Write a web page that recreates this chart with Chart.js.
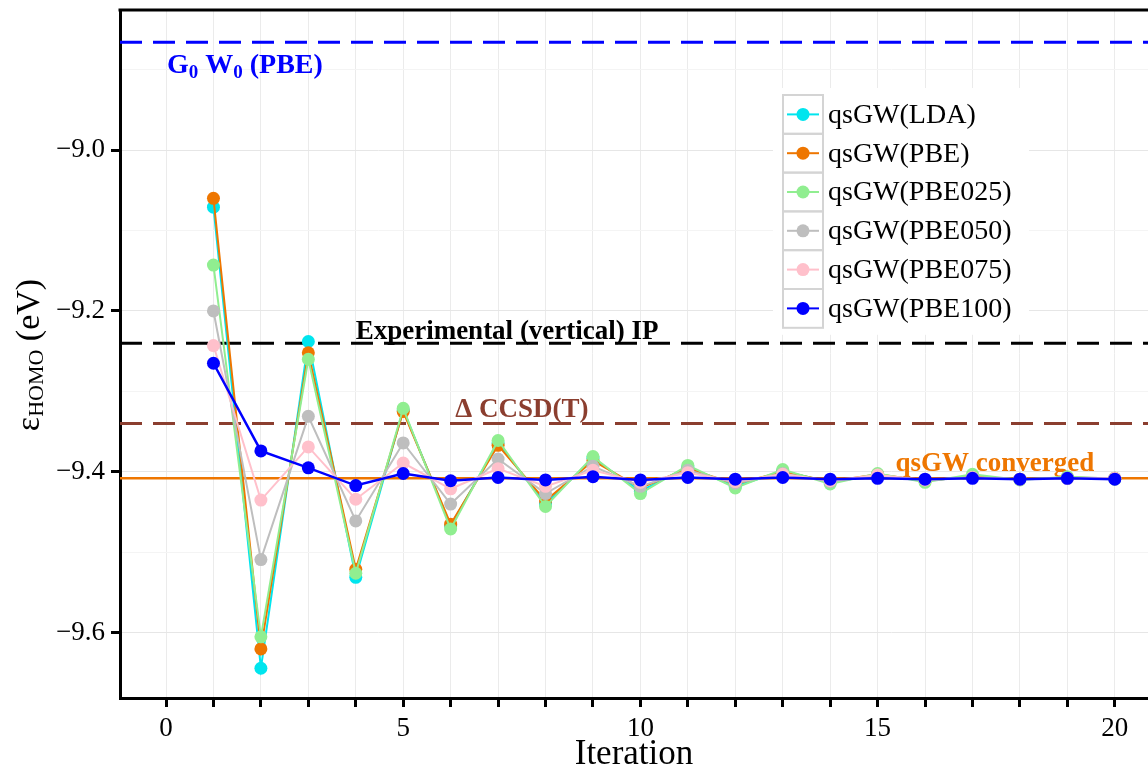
<!DOCTYPE html>
<html>
<head>
<meta charset="utf-8">
<title>qsGW HOMO convergence</title>
<script src="https://cdn.jsdelivr.net/npm/chart.js@4.4.0/dist/chart.umd.min.js"></script>
<style>
  body { margin: 0; background: #fff; }
  #wrap { width: 1148px; height: 769px; }
</style>
</head>
<body>
<div id="wrap"><canvas id="homoChart" width="1148" height="769"></canvas></div>
<script>
// iteration number for every point
const iterations = [1, 2, 3, 4, 5, 6, 7, 8, 9, 10, 11, 12, 13, 14, 15, 16, 17, 18, 19, 20];

// HOMO energies (eV) per starting point
const qsLDA    = [-9.071, -9.644, -9.238, -9.531, -9.323, -9.467, -9.364, -9.440, -9.383, -9.424, -9.394, -9.418, -9.399, -9.413, -9.404, -9.411, -9.406, -9.409, -9.407, -9.408];
const qsPBE    = [-9.060, -9.620, -9.252, -9.521, -9.325, -9.465, -9.367, -9.436, -9.386, -9.420, -9.396, -9.415, -9.400, -9.412, -9.403, -9.411, -9.406, -9.409, -9.407, -9.408];
const qsPBE025 = [-9.143, -9.605, -9.260, -9.526, -9.321, -9.471, -9.361, -9.443, -9.381, -9.427, -9.392, -9.420, -9.397, -9.415, -9.402, -9.413, -9.403, -9.410, -9.406, -9.409];
const qsPBE050 = [-9.200, -9.509, -9.331, -9.461, -9.364, -9.440, -9.384, -9.427, -9.393, -9.418, -9.398, -9.414, -9.402, -9.412, -9.405, -9.410, -9.407, -9.409, -9.408, -9.408];
const qsPBE075 = [-9.243, -9.435, -9.369, -9.434, -9.389, -9.421, -9.396, -9.418, -9.398, -9.413, -9.401, -9.412, -9.403, -9.411, -9.404, -9.410, -9.407, -9.409, -9.408, -9.408];
const qsPBE100 = [-9.265, -9.374, -9.395, -9.417, -9.402, -9.411, -9.407, -9.410, -9.406, -9.410, -9.407, -9.409, -9.407, -9.409, -9.408, -9.409, -9.408, -9.409, -9.408, -9.409];

const seriesNames  = ['qsGW(LDA)', 'qsGW(PBE)', 'qsGW(PBE025)', 'qsGW(PBE050)', 'qsGW(PBE075)', 'qsGW(PBE100)'];
const seriesValues = [qsLDA, qsPBE, qsPBE025, qsPBE050, qsPBE075, qsPBE100];
const seriesColors = ['#00E5EE', '#EE7600', '#90EE90', '#BEBEBE', '#FFC0CB', '#0000FF'];

// reference levels (eV)
const refNames  = ['G0W0(PBE)', 'Experimental (vertical) IP', 'Δ CCSD(T)', 'qsGW converged'];
const refValues = [-8.866, -9.240, -9.340, -9.408];
const refColors = ['#0000FF', '#000000', '#8B3E2F', '#EE7600'];

// axis ticks
const yTickValues = [-9.6, -9.5, -9.4, -9.3, -9.2, -9.1, -9.0, -8.9];
const yTickLabels = [-9.6, -9.4, -9.2, -9.0];
const xTickLabels = [0, 5, 10, 15, 20];

const SERIF = '"Liberation Serif", "DejaVu Serif", serif';

const datasets = seriesNames.map(function(name, i) {
    return {
        label: name,
        data: iterations.map(function(it, k) { return { x: it, y: seriesValues[i][k] }; }),
        borderColor: seriesColors[i],
        backgroundColor: seriesColors[i],
        borderWidth: i === 5 ? 2.5 : 2,
        pointRadius: 6.5,
        pointBorderWidth: 0,
        tension: 0,
        order: 5 - i // later series drawn on top
    };
});

const isYLabel = function(v) {
    return yTickLabels.some(function(t) { return Math.abs(t - v) < 1e-6; });
};

// reference lines and their text
const refPlugin = {
    id: 'refLines',
    beforeDatasetsDraw(chart) {
        const ctx = chart.ctx, area = chart.chartArea;
        const xs = chart.scales.x, ys = chart.scales.y;
        ctx.save();
        ctx.beginPath();
        ctx.rect(area.left, area.top, area.right - area.left, area.bottom - area.top);
        ctx.clip();
        refValues.forEach(function(v, i) {
            const py = ys.getPixelForValue(v);
            ctx.beginPath();
            ctx.strokeStyle = refColors[i];
            ctx.lineWidth = i === 3 ? 2.5 : 3;
            ctx.setLineDash(i === 3 ? [] : [22, 11]);
            ctx.moveTo(area.left, py);
            ctx.lineTo(area.right, py);
            ctx.stroke();
        });
        ctx.setLineDash([]);

        // labels
        ctx.textBaseline = 'alphabetic';
        // G0 W0 (PBE) with subscripts
        let px = xs.getPixelForValue(0.02);
        let py = ys.getPixelForValue(refValues[0]) + 31;
        ctx.fillStyle = refColors[0];
        ctx.textAlign = 'left';
        const parts = [['G', 0], ['0', 1], [' W', 0], ['0', 1], [' (PBE)', 0]];
        parts.forEach(function(p) {
            ctx.font = p[1] ? 'bold 19px ' + SERIF : 'bold 28px ' + SERIF;
            ctx.fillText(p[0], px, py + (p[1] ? 5 : 0));
            px += ctx.measureText(p[0]).width;
        });

        ctx.font = 'bold 27px ' + SERIF;
        ctx.textAlign = 'center';
        ctx.fillStyle = refColors[1];
        ctx.fillText(refNames[1], xs.getPixelForValue(7.19), ys.getPixelForValue(refValues[1]) - 4);
        ctx.fillStyle = refColors[2];
        ctx.fillText(refNames[2], xs.getPixelForValue(7.5), ys.getPixelForValue(refValues[2]) - 7);
        ctx.fillStyle = refColors[3];
        ctx.fillText(refNames[3], xs.getPixelForValue(17.47), ys.getPixelForValue(refValues[3]) - 7);
        ctx.restore();
    },
    afterDraw(chart) {
        const ctx = chart.ctx, area = chart.chartArea;
        ctx.save();
        // top panel border
        ctx.strokeStyle = '#000';
        ctx.lineWidth = 3;
        ctx.beginPath();
        ctx.moveTo(area.left - 1.5, area.top);
        ctx.lineTo(area.right, area.top);
        ctx.stroke();

        // y axis title: epsilon_HOMO (eV)
        ctx.translate(30, 355);
        ctx.rotate(-Math.PI / 2);
        ctx.fillStyle = '#000';
        ctx.textBaseline = 'middle';
        ctx.textAlign = 'left';
        const bits = [['ε', 34, 0], ['HOMO', 22, 7], [' (eV)', 34, 0]];
        let w = 0;
        bits.forEach(function(b) { ctx.font = b[1] + 'px ' + SERIF; w += ctx.measureText(b[0]).width; });
        let x0 = -w / 2;
        bits.forEach(function(b) {
            ctx.font = b[1] + 'px ' + SERIF;
            ctx.fillText(b[0], x0, b[2]);
            x0 += ctx.measureText(b[0]).width;
        });
        ctx.restore();

        // legend with boxed keys
        ctx.save();
        const lx = 783, ly = 95, rowH = 38.8, keyW = 40;
        ctx.fillStyle = '#fff';
        ctx.fillRect(773, 88, 256, rowH * 6 + 14);
        chart.data.datasets.forEach(function(ds, i) {
            const top = ly + i * rowH, cy = top + rowH / 2;
            ctx.strokeStyle = '#D4D4D4';
            ctx.lineWidth = 2;
            ctx.strokeRect(lx, top, keyW, rowH);
            ctx.strokeStyle = ds.borderColor;
            ctx.lineWidth = 2;
            ctx.beginPath();
            ctx.moveTo(lx + 4, cy);
            ctx.lineTo(lx + keyW - 4, cy);
            ctx.stroke();
            ctx.fillStyle = ds.backgroundColor;
            ctx.beginPath();
            ctx.arc(lx + keyW / 2, cy, 6.5, 0, Math.PI * 2);
            ctx.fill();
            ctx.fillStyle = '#000';
            ctx.font = '28px ' + SERIF;
            ctx.textAlign = 'left';
            ctx.textBaseline = 'middle';
            ctx.fillText(ds.label, lx + keyW + 5, cy + 1);
        });
        ctx.restore();
    }
};

const ctx = document.getElementById('homoChart').getContext('2d');
const chart = new Chart(ctx, {
    type: 'line',
    data: { datasets: datasets },
    options: {
        responsive: false,
        animation: false,
        layout: { autoPadding: false, padding: { top: 10, right: 0, left: 0, bottom: 0 } },
        plugins: {
            legend: { display: false },
            tooltip: { enabled: false },
            title: { display: false }
        },
        scales: {
            x: {
                type: 'linear',
                min: -0.97,
                max: 20.7,
                afterBuildTicks: function(scale) {
                    scale.ticks = iterations.concat([0]).sort(function(a, b) { return a - b; })
                        .map(function(v) { return { value: v }; });
                },
                afterFit: function(scale) {
                    scale.height = 71;
                    scale.paddingLeft = 0;
                    scale.paddingRight = 0;
                },
                border: { display: true, color: '#000', width: 3 },
                grid: {
                    color: '#EBEBEB',
                    lineWidth: 1,
                    drawTicks: true,
                    tickLength: 9,
                    tickWidth: 3,
                    tickColor: '#000'
                },
                ticks: {
                    autoSkip: false,
                    maxRotation: 0,
                    padding: 6,
                    color: '#000',
                    font: { family: SERIF, size: 27 },
                    callback: function(value) {
                        return xTickLabels.indexOf(value) >= 0 ? String(value) : '';
                    }
                },
                title: {
                    display: true,
                    text: 'Iteration',
                    color: '#000',
                    font: { family: SERIF, size: 35 },
                    padding: { top: 0, bottom: -7 }
                }
            },
            y: {
                type: 'linear',
                min: -9.681,
                max: -8.826,
                afterBuildTicks: function(scale) {
                    scale.ticks = yTickValues.map(function(v) { return { value: v }; });
                },
                afterFit: function(scale) {
                    scale.width = 120;
                    scale.paddingTop = 0;
                    scale.paddingBottom = 0;
                },
                border: { display: true, color: '#000', width: 3 },
                grid: {
                    color: function(c) { return isYLabel(c.tick.value) ? '#E6E6E6' : '#F4F4F4'; },
                    lineWidth: 1,
                    drawTicks: true,
                    tickLength: 9,
                    tickWidth: 3,
                    tickColor: function(c) { return isYLabel(c.tick.value) ? '#000' : 'rgba(0,0,0,0)'; }
                },
                ticks: {
                    autoSkip: false,
                    padding: 6,
                    color: '#000',
                    font: { family: SERIF, size: 27 },
                    callback: function(value) {
                        return isYLabel(value) ? '\u2212' + Math.abs(value).toFixed(1) : '';
                    }
                }
            }
        }
    },
    plugins: [refPlugin]
});
</script>
</body>
</html>
